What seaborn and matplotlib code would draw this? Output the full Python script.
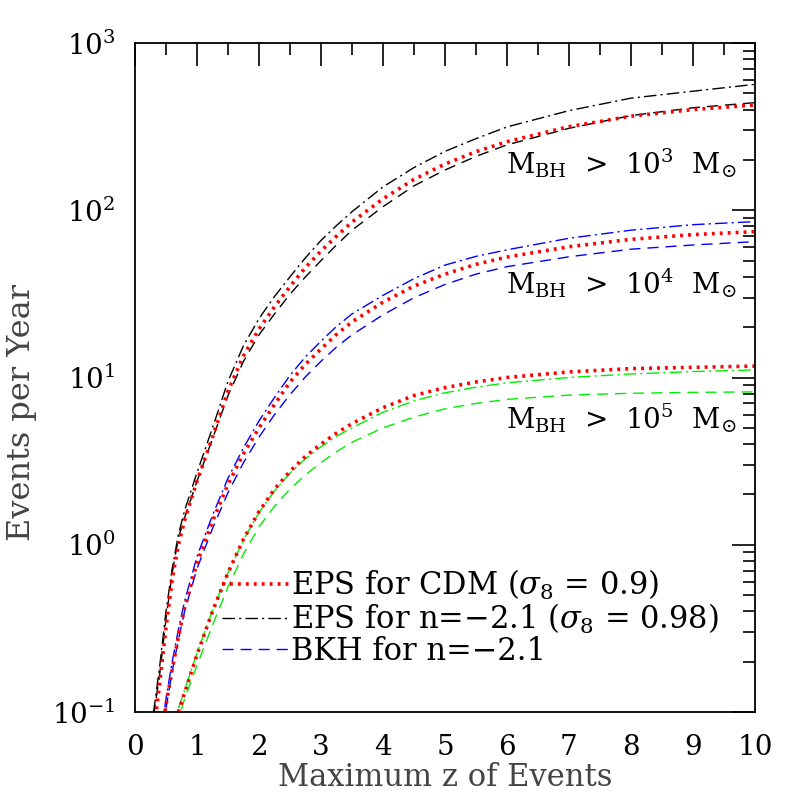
import numpy as np
import pandas as pd
import matplotlib
matplotlib.use("Agg")
import matplotlib.pyplot as plt
import seaborn as sns
from matplotlib.ticker import LogLocator, MultipleLocator, NullFormatter, LogFormatterMathtext

# ---- data ----
z = [0.3, 0.4, 0.5, 0.6, 0.7, 0.8, 1.0, 1.25, 1.5, 1.75, 2.0, 2.25, 2.5, 2.75, 3.0, 3.25, 3.5,
     4.0, 4.5, 5.0, 5.5, 6.0, 7.0, 8.0, 9.0, 10.0]

# M_BH > 1e3
eps_cdm_1e3 = [0.075, 0.15, 0.32, 0.62, 1.0, 1.4, 2.4, 4.4, 8.3, 13.5, 19.5, 26.5, 35, 45.5, 57, 70, 85,
               117, 153, 189, 224, 257, 316, 365, 400, 426]
eps_n21_1e3 = [0.1, 0.19, 0.4, 0.72, 1.15, 1.6, 2.7, 5.0, 9.5, 15.5, 22.5, 30.5, 40, 52, 66, 81, 98,
               138, 180, 225, 268, 315, 394, 468, 515, 566]
bkh_n21_1e3 = [0.095, 0.17, 0.36, 0.68, 1.1, 1.45, 2.4, 4.3, 7.8, 12.5, 18, 24, 31.5, 40, 50, 62, 76,
               105, 140, 174, 210, 246, 309, 368, 410, 440]

# M_BH > 1e4
eps_cdm_1e4 = [0.028, 0.06, 0.11, 0.18, 0.28, 0.42, 0.78, 1.38, 2.3, 3.5, 5.0, 6.9, 9.4, 12.0, 14.8, 18.1, 21.5,
               28.2, 35.2, 41.5, 47.5, 52.5, 60.5, 67, 71.5, 74.5]
eps_n21_1e4 = [0.03, 0.065, 0.12, 0.2, 0.31, 0.46, 0.85, 1.5, 2.5, 3.8, 5.5, 7.6, 10.3, 13.3, 16.5, 20.2, 24,
               31, 39, 47, 53, 58, 68, 76, 82, 85.5]
bkh_n21_1e4 = [0.026, 0.055, 0.105, 0.175, 0.27, 0.4, 0.72, 1.25, 2.05, 3.1, 4.4, 6.0, 7.9, 10.1, 12.5, 15.2, 18,
               23.7, 30, 36, 41.5, 46, 52.7, 58.5, 62, 64.9]

# M_BH > 1e5
eps_cdm_1e5 = [0.01, 0.02, 0.045, 0.075, 0.1, 0.13, 0.22, 0.4, 0.68, 1.08, 1.58, 2.15, 2.75, 3.38, 4.0, 4.65, 5.3,
               6.6, 7.8, 8.7, 9.4, 10.0, 10.8, 11.3, 11.5, 11.7]
eps_n21_1e5 = [0.01, 0.02, 0.05, 0.08, 0.105, 0.135, 0.225, 0.405, 0.68, 1.07, 1.56, 2.1, 2.68, 3.27, 3.85, 4.45, 5.0,
               6.2, 7.25, 8.1, 8.75, 9.3, 10.0, 10.5, 10.85, 11.1]
bkh_n21_1e5 = [0.008, 0.016, 0.04, 0.065, 0.09, 0.12, 0.19, 0.33, 0.56, 0.88, 1.28, 1.7, 2.15, 2.62, 3.1, 3.6, 4.1,
               5.0, 5.8, 6.5, 7.0, 7.4, 7.85, 8.05, 8.15, 8.2]

legend_labels = [r"EPS for CDM ($\sigma_8$ = 0.9)",
                 r"EPS for n=−2.1 ($\sigma_8$ = 0.98)",
                 r"BKH for n=−2.1"]
mass_labels = [r"M$_{\rm BH}$  >  10$^3$  M$_{⊙}$",
               r"M$_{\rm BH}$  >  10$^4$  M$_{⊙}$",
               r"M$_{\rm BH}$  >  10$^5$  M$_{⊙}$"]
mass_label_pos = [(7.85, 190), (7.85, 36.5), (7.85, 5.7)]

# ---- styling ----
sns.set_style("white")
plt.rcParams["font.family"] = ["DejaVu Serif"]
plt.rcParams["mathtext.fontset"] = "dejavuserif"

fig = plt.figure(figsize=(7.97, 7.97), dpi=100)
ax = fig.add_axes([135/797, 1 - 712/797, 620/797, 669/797])

dotted = (0, (0.8, 1.4))
dashdot = (0, (9, 3, 1.5, 3))
dashed = (0, (8, 5))

groups = [
    (eps_cdm_1e3, eps_n21_1e3, bkh_n21_1e3, "black"),
    (eps_cdm_1e4, eps_n21_1e4, bkh_n21_1e4, "#0000ff"),
    (eps_cdm_1e5, eps_n21_1e5, bkh_n21_1e5, "#00ee00"),
]
handles = []
for i, (cdm, eps, bkh, col) in enumerate(groups):
    sns.lineplot(x=z, y=eps, ax=ax, color=col, linewidth=1.0, linestyle=dashdot)
    h_eps = ax.lines[-1]
    sns.lineplot(x=z, y=bkh, ax=ax, color=col, linewidth=1.0, linestyle=dashed)
    h_bkh = ax.lines[-1]
    sns.lineplot(x=z, y=cdm, ax=ax, color="#ff0000", linewidth=2.6, linestyle=dotted)
    h_cdm = ax.lines[-1]
    if i == 0:
        handles.append(h_cdm)
        handles.append(h_eps)
    if i == 1:
        handles.append(h_bkh)

ax.set_yscale("log")
ax.set_xlim(0, 10)
ax.set_ylim(0.1, 1000)

ax.xaxis.set_major_locator(MultipleLocator(1))
ax.xaxis.set_minor_locator(MultipleLocator(0.5))
ax.yaxis.set_major_locator(LogLocator(base=10))
ax.yaxis.set_minor_locator(LogLocator(base=10, subs=np.arange(2, 10)))
ax.yaxis.set_major_formatter(LogFormatterMathtext())
ax.yaxis.set_minor_formatter(NullFormatter())

ax.tick_params(which="both", direction="in", top=True, right=True, width=1.2,
               colors="black", labelsize=20)
ax.tick_params(which="major", length=16.5)
ax.tick_params(which="minor", length=8.6)
ax.tick_params(axis="x", which="major", pad=16)
ax.tick_params(axis="y", which="major", pad=14)
for sp in ax.spines.values():
    sp.set_linewidth(1.3)
    sp.set_color("black")

ax.set_xlabel("Maximum z of Events", fontsize=22, color="#444444")
ax.set_ylabel("Events per Year", fontsize=23, color="#444444")
ax.xaxis.set_label_coords(0.5, -0.075)
ax.yaxis.set_label_coords(-0.158, 0.447)

for txt, (xx, yy) in zip(mass_labels, mass_label_pos):
    ax.text(xx, yy, txt, fontsize=20, ha="center", va="center", color="black")

leg = ax.legend(handles=handles, labels=legend_labels, loc="lower left",
                bbox_to_anchor=((222 - 135) / 620, (712 - 667) / 669),
                frameon=False, fontsize=22, handlelength=2.2, handletextpad=0.05,
                labelspacing=0.0, borderpad=0, borderaxespad=0, labelcolor="black")

fig.savefig("out.png", dpi=100)
